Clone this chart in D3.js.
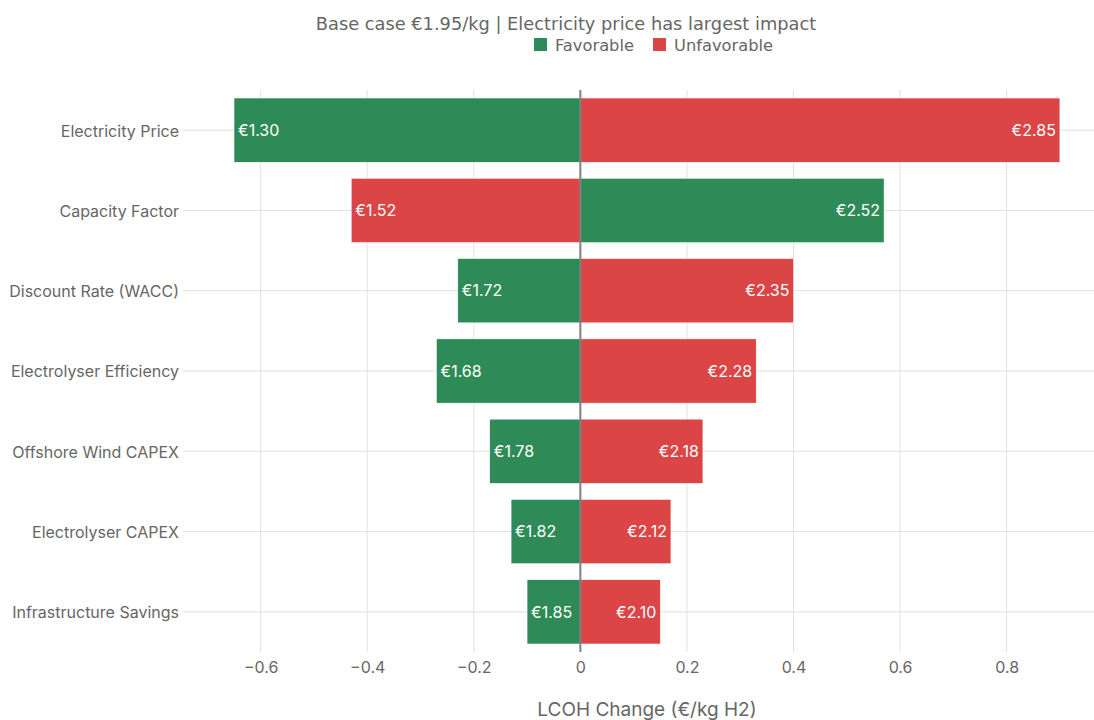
<!DOCTYPE html>
<html>
<head>
<meta charset="utf-8">
<script src="https://cdn.jsdelivr.net/npm/d3@7"></script>
<style>
  body { margin: 0; background: #fff; }
</style>
</head>
<body>
<script>
const w = 1094, h = 720;

// tornado data, LCOH in €/kg
const baseCase = 1.95;
const factors = ["Electricity Price", "Capacity Factor", "Discount Rate (WACC)", "Electrolyser Efficiency",
                 "Offshore Wind CAPEX", "Electrolyser CAPEX", "Infrastructure Savings"];
const lowValues  = [1.30, 1.52, 1.72, 1.68, 1.78, 1.82, 1.85];
const highValues = [2.85, 2.52, 2.35, 2.28, 2.18, 2.12, 2.10];
const lowKind  = ["Favorable", "Unfavorable", "Favorable", "Favorable", "Favorable", "Favorable", "Favorable"];
const highKind = ["Unfavorable", "Favorable", "Unfavorable", "Unfavorable", "Unfavorable", "Unfavorable", "Unfavorable"];
const xTicks = [-0.6, -0.4, -0.2, 0, 0.2, 0.4, 0.6, 0.8];

const colors = { Favorable: "#2e8b57", Unfavorable: "#dc4545" };
const inter = "Inter, 'Noto Sans', sans-serif";
const dejavu = "'DejaVu Sans', sans-serif";

const m = { top: 90, right: 0, bottom: 68, left: 185 };

const svg = d3.select("body").append("svg").attr("width", w).attr("height", h)
  .style("font-family", inter);

const x = d3.scaleLinear().domain([-0.742, 0.964]).range([m.left, w - m.right]);
const y = d3.scaleBand().domain(factors).range([m.top, h - m.bottom]).paddingInner(0.2).paddingOuter(0.1);

// gridlines
svg.append("g").selectAll("line").data(xTicks).join("line")
  .attr("x1", d => x(d)).attr("x2", d => x(d))
  .attr("y1", m.top).attr("y2", h - m.bottom)
  .attr("stroke", "#e1e1e1").attr("stroke-width", 1);
svg.append("g").selectAll("line").data(factors).join("line")
  .attr("x1", m.left - 2).attr("x2", w - m.right)
  .attr("y1", d => y(d) + y.bandwidth() / 2).attr("y2", d => y(d) + y.bandwidth() / 2)
  .attr("stroke", "#e1e1e1").attr("stroke-width", 1);

// bars
const bars = [];
factors.forEach((f, i) => {
  bars.push({ f: f, v: lowValues[i] - baseCase, val: lowValues[i], kind: lowKind[i] });
  bars.push({ f: f, v: highValues[i] - baseCase, val: highValues[i], kind: highKind[i] });
});

svg.append("g").selectAll("rect").data(bars).join("rect")
  .attr("x", d => Math.min(x(0), x(d.v)))
  .attr("width", d => Math.abs(x(d.v) - x(0)))
  .attr("y", d => y(d.f))
  .attr("height", y.bandwidth())
  .attr("fill", d => colors[d.kind])
  .attr("stroke", "#fff").attr("stroke-width", 0.5);

svg.append("g").selectAll("text").data(bars).join("text")
  .attr("x", d => d.v < 0 ? x(d.v) + 4 : x(d.v) - 4)
  .attr("y", d => y(d.f) + y.bandwidth() / 2)
  .attr("dy", "0.36em")
  .attr("text-anchor", d => d.v < 0 ? "start" : "end")
  .attr("fill", "#fff").style("font-size", "16px")
  .text(d => "€" + d.val.toFixed(2));

// zero line
svg.append("line")
  .attr("x1", x(0)).attr("x2", x(0))
  .attr("y1", m.top).attr("y2", h - m.bottom)
  .attr("stroke", "#808080").attr("stroke-width", 2);

// axes
const xAxis = svg.append("g").attr("transform", `translate(0,${h - m.bottom})`)
  .call(d3.axisBottom(x).tickValues(xTicks).tickSize(0).tickPadding(10)
    .tickFormat(d => d === 0 ? "0" : d3.format(".1f")(d).replace("-", "−")));
xAxis.select(".domain").remove();
xAxis.selectAll("text").attr("fill", "#666").style("font-size", "16px").style("font-family", inter);

const yAxis = svg.append("g").attr("transform", `translate(${m.left},0)`)
  .call(d3.axisLeft(y).tickSize(0).tickPadding(6));
yAxis.select(".domain").remove();
yAxis.selectAll("text").attr("fill", "#666").attr("dy", "0.4em")
  .style("font-size", "16px").style("font-family", inter);

svg.append("text")
  .attr("x", x(0.125)).attr("y", 716)
  .attr("text-anchor", "middle").attr("fill", "#666")
  .style("font-size", "19px").style("font-family", inter)
  .text("LCOH Change (€/kg H2)");

// subtitle
svg.append("text")
  .attr("x", 566).attr("y", 30)
  .attr("text-anchor", "middle").attr("fill", "#666")
  .style("font-size", "17.8px").style("font-family", dejavu)
  .text("Base case €1.95/kg | Electricity price has largest impact");

// legend
const legend = svg.append("g").attr("transform", "translate(534,38)");
const items = [{ k: "Favorable", x: 0 }, { k: "Unfavorable", x: 119 }];
const li = legend.selectAll("g").data(items).join("g").attr("transform", d => `translate(${d.x},0)`);
li.append("rect").attr("width", 13).attr("height", 13).attr("fill", d => colors[d.k]);
li.append("text").attr("x", 21).attr("y", 12.5).attr("fill", "#666")
  .style("font-size", "16.3px").style("font-family", dejavu)
  .text(d => d.k);
</script>
</body>
</html>
